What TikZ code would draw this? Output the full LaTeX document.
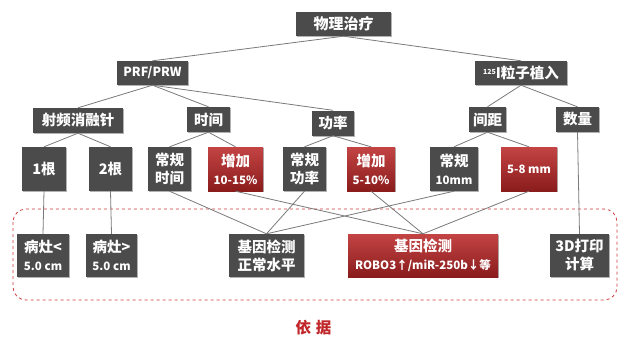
\documentclass[tikz,border=0pt]{standalone}
\usepackage{fontspec}
\setmainfont{Noto Sans CJK SC}
\usetikzlibrary{shadows}
\definecolor{boxgray}{HTML}{4B4B4B}
\definecolor{redtop}{HTML}{C44444}
\definecolor{redbot}{HTML}{8A1C1C}
\definecolor{linegray}{HTML}{7A7A7A}
\definecolor{dashred}{HTML}{D03A3A}
\definecolor{labelred}{HTML}{C0262A}
\tikzset{
  box/.style={fill=boxgray, text=white, font=\bfseries, inner sep=0pt, align=center,
    drop shadow={shadow xshift=1.2pt, shadow yshift=-1.4pt, opacity=0.3, fill=black}},
  redbox/.style={box, fill=none, top color=redtop, bottom color=redbot},
  conn/.style={draw=linegray, line width=0.8pt},
  lvtwo/.style={minimum height=25pt, font=\bfseries\fontsize{14.5}{16}\selectfont},
  lvthree/.style={minimum height=44pt, font=\bfseries\fontsize{14.5}{18}\selectfont},
  lvbot/.style={minimum height=43pt, font=\bfseries\fontsize{14.5}{18}\selectfont},
  small/.style={font=\bfseries\fontsize{11.5}{18}\selectfont},
}
\begin{document}
\begin{tikzpicture}[x=1pt, y=-1pt]
\useasboundingbox (0,0) rectangle (619,338);
\fill[white] (0,0) rectangle (619,338);
% dashed frame
\draw[dashred, dashed, line width=0.8pt, rounded corners=13pt] (13,209) rectangle (617,300);
% level 0
\node[box, minimum width=95pt, minimum height=24pt, font=\bfseries\fontsize{15}{16}\selectfont] (root) at (343.5,24) {物理治疗};
% level 1
\node[box, minimum width=71pt, minimum height=24pt, font=\bfseries\fontsize{12.5}{14}\selectfont] (prf) at (152.5,73) {PRF/PRW};
\node[box, minimum width=92pt, minimum height=24pt, font=\bfseries\fontsize{14.5}{16}\selectfont] (seed) at (521,73) {\raisebox{4pt}{\fontsize{7}{7}\selectfont 125}I粒子植入};
% level 2
\node[box, lvtwo, minimum width=90pt] (rf) at (78,120.5) {射频消融针};
\node[box, lvtwo, minimum width=43pt] (time) at (208.5,119.5) {时间};
\node[box, lvtwo, minimum width=42pt] (power) at (333,123) {功率};
\node[box, lvtwo, minimum width=37pt] (gap) at (487.5,119.5) {间距};
\node[box, lvtwo, minimum width=43pt] (num) at (577.5,119.5) {数量};
% level 3
\node[box, lvthree, minimum width=44pt] (n1) at (44,169) {1根};
\node[box, lvthree, minimum width=43pt] (n2) at (110.5,169) {2根};
\node[box, lvthree, minimum width=43pt] (ct) at (169.5,169) {常规\\时间};
\node[redbox, lvthree, minimum width=55pt] (it) at (235.5,169) {增加\\{\fontsize{11.5}{12}\selectfont 10-15\%}};
\node[box, lvthree, minimum width=43pt] (cp) at (304.5,169) {常规\\功率};
\node[redbox, lvthree, minimum width=48pt] (ip) at (371,169) {增加\\{\fontsize{11.5}{12}\selectfont 5-10\%}};
\node[box, lvthree, minimum width=48pt] (cg) at (454,169) {常规\\{\fontsize{11.5}{12}\selectfont 10mm}};
\node[redbox, lvthree, minimum width=56pt, font=\bfseries\fontsize{11.5}{12}\selectfont] (ig) at (529,169) {5-8 mm};
% bottom
\node[box, lvbot, minimum width=52pt] (b1) at (43,255.5) {病灶<\\{\fontsize{11.5}{12}\selectfont 5.0 cm}};
\node[box, lvbot, minimum width=51pt] (b2) at (111.5,255.5) {病灶>\\{\fontsize{11.5}{12}\selectfont 5.0 cm}};
\node[box, lvbot, minimum width=75pt] (gn) at (266.5,255.5) {基因检测\\正常水平};
\node[redbox, lvbot, minimum width=150pt] (gr) at (423,255.5) {基因检测\\{\fontsize{11.5}{12}\selectfont ROBO3↑/miR-250b↓等}};
\node[box, lvbot, minimum width=59pt] (pr) at (579.5,255.5) {3D打印\\计算};
% label
\node[text=labelred, font=\bfseries\fontsize{15.5}{17}\selectfont, inner sep=0pt] (basis) at (313.5,328) {依\hspace{5pt}据};
% connectors
\draw[conn] (root.south) -- (prf.north);
\draw[conn] (root.south) -- (seed.north);
\draw[conn] (prf.south) -- (rf.north);
\draw[conn] (prf.south) -- (time.north);
\draw[conn] (prf.south) -- (power.north);
\draw[conn] (seed.south) -- (gap.north);
\draw[conn] (seed.south) -- (num.north);
\draw[conn] (rf.south) -- (n1.north);
\draw[conn] (rf.south) -- (n2.north);
\draw[conn] (time.south) -- (ct.north);
\draw[conn] (time.south) -- (it.north);
\draw[conn] (power.south) -- (cp.north);
\draw[conn] (power.south) -- (ip.north);
\draw[conn] (gap.south) -- (cg.north);
\draw[conn] (gap.south) -- (ig.north);
\draw[conn] (num.south) -- (pr.north);
\draw[conn] (n1.south) -- (b1.north);
\draw[conn] (n2.south) -- (b2.north);
\draw[conn] (ct.south) -- (gn.north);
\draw[conn] (cp.south) -- (gn.north);
\draw[conn] (cg.south) -- (gn.north);
\draw[conn] (it.south) -- (gr.north);
\draw[conn] (ip.south) -- (gr.north);
\draw[conn] (ig.south) -- (gr.north);
\end{tikzpicture}
\end{document}
